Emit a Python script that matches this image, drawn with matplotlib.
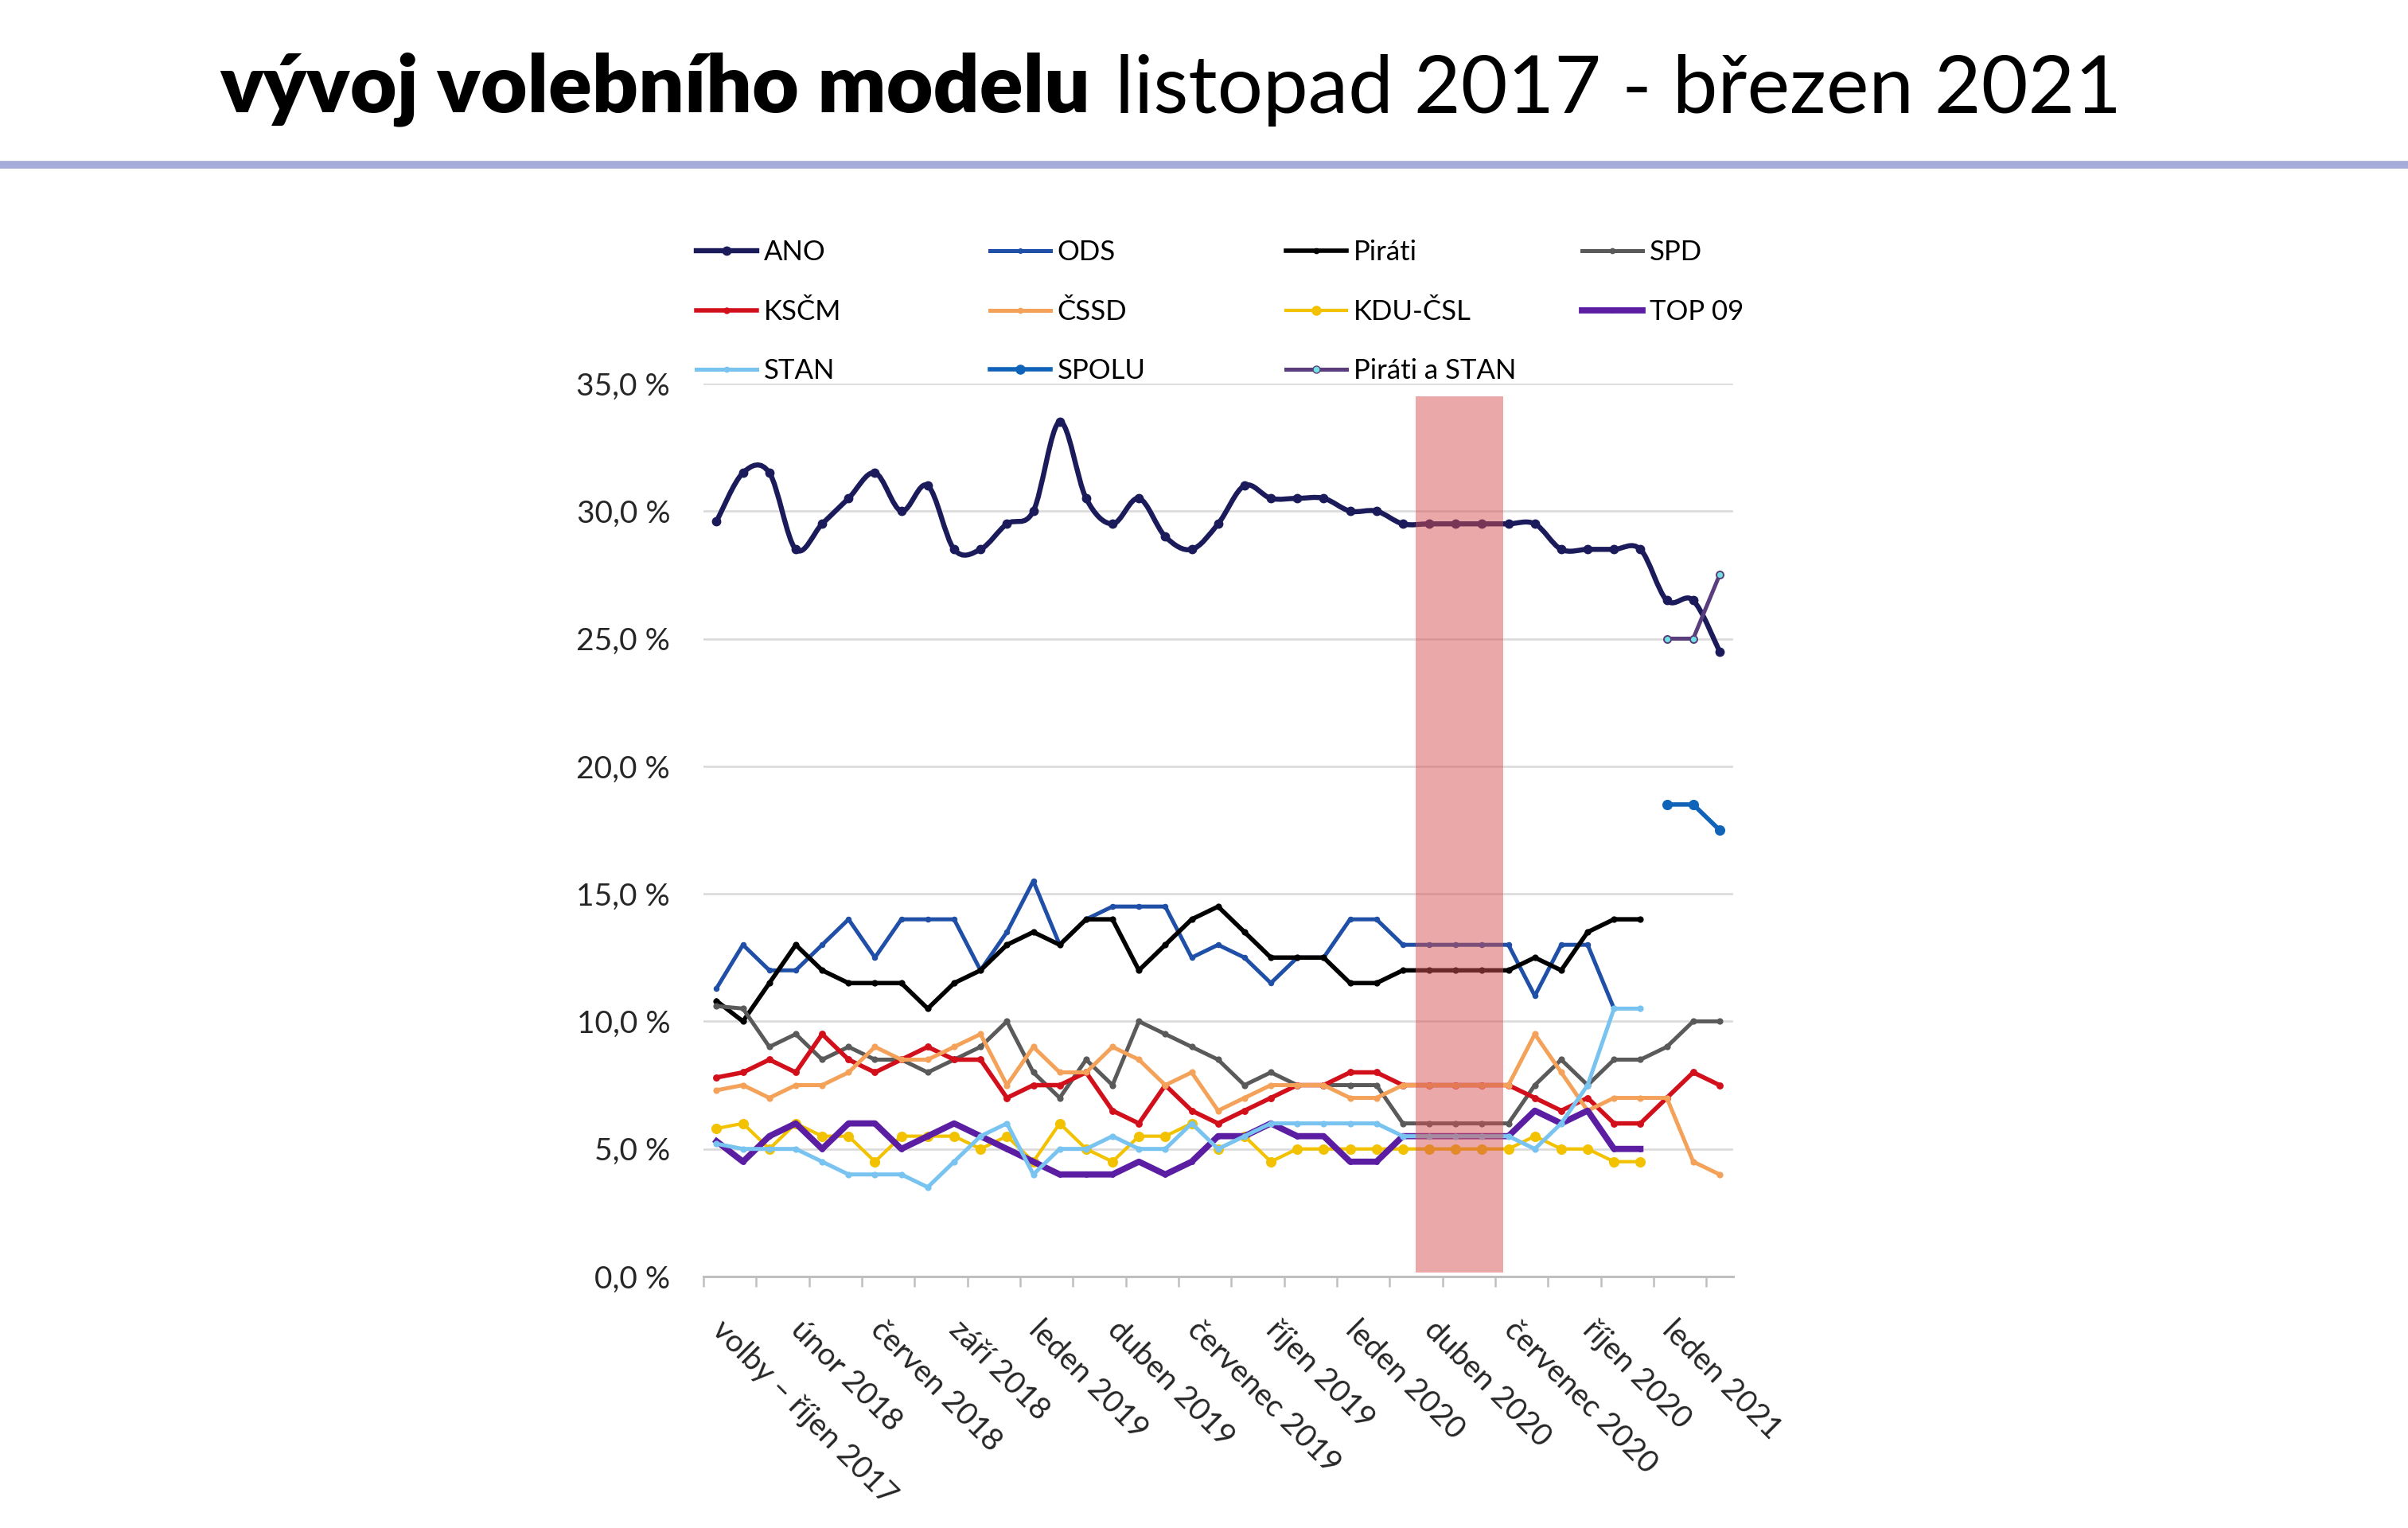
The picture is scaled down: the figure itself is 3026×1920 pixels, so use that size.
import numpy as np
import matplotlib

matplotlib.use("Agg")
import matplotlib.pyplot as plt
from matplotlib.lines import Line2D
from matplotlib.path import Path
from matplotlib.patches import PathPatch

FONT = ["Lato", "DejaVu Sans"]
plt.rcParams["font.family"] = FONT

# --- data (volební model, %) -------------------------------------------
n_points = 39
x_labels = ["volby – říjen 2017", "únor 2018", "červen 2018", "září 2018",
            "leden 2019", "duben 2019", "červenec 2019", "říjen 2019",
            "leden 2020", "duben 2020", "červenec 2020", "říjen 2020",
            "leden 2021"]
label_step = 3

ano = [29.6, 31.5, 31.5, 28.5, 29.5, 30.5, 31.5, 30.0, 31.0, 28.5,
       28.5, 29.5, 30.0, 33.5, 30.5, 29.5, 30.5, 29.0, 28.5, 29.5,
       31.0, 30.5, 30.5, 30.5, 30.0, 30.0, 29.5, 29.5, 29.5, 29.5,
       29.5, 29.5, 28.5, 28.5, 28.5, 28.5, 26.5, 26.5, 24.5]
ods = [11.3, 13.0, 12.0, 12.0, 13.0, 14.0, 12.5, 14.0, 14.0, 14.0,
       12.0, 13.5, 15.5, 13.0, 14.0, 14.5, 14.5, 14.5, 12.5, 13.0,
       12.5, 11.5, 12.5, 12.5, 14.0, 14.0, 13.0, 13.0, 13.0, 13.0,
       13.0, 11.0, 13.0, 13.0, 10.5]
pirati = [10.8, 10.0, 11.5, 13.0, 12.0, 11.5, 11.5, 11.5, 10.5, 11.5,
          12.0, 13.0, 13.5, 13.0, 14.0, 14.0, 12.0, 13.0, 14.0, 14.5,
          13.5, 12.5, 12.5, 12.5, 11.5, 11.5, 12.0, 12.0, 12.0, 12.0,
          12.0, 12.5, 12.0, 13.5, 14.0, 14.0]
spd = [10.6, 10.5, 9.0, 9.5, 8.5, 9.0, 8.5, 8.5, 8.0, 8.5,
       9.0, 10.0, 8.0, 7.0, 8.5, 7.5, 10.0, 9.5, 9.0, 8.5,
       7.5, 8.0, 7.5, 7.5, 7.5, 7.5, 6.0, 6.0, 6.0, 6.0,
       6.0, 7.5, 8.5, 7.5, 8.5, 8.5, 9.0, 10.0, 10.0]
kscm = [7.8, 8.0, 8.5, 8.0, 9.5, 8.5, 8.0, 8.5, 9.0, 8.5,
        8.5, 7.0, 7.5, 7.5, 8.0, 6.5, 6.0, 7.5, 6.5, 6.0,
        6.5, 7.0, 7.5, 7.5, 8.0, 8.0, 7.5, 7.5, 7.5, 7.5,
        7.5, 7.0, 6.5, 7.0, 6.0, 6.0, 7.0, 8.0, 7.5]
cssd = [7.3, 7.5, 7.0, 7.5, 7.5, 8.0, 9.0, 8.5, 8.5, 9.0,
        9.5, 7.5, 9.0, 8.0, 8.0, 9.0, 8.5, 7.5, 8.0, 6.5,
        7.0, 7.5, 7.5, 7.5, 7.0, 7.0, 7.5, 7.5, 7.5, 7.5,
        7.5, 9.5, 8.0, 6.5, 7.0, 7.0, 7.0, 4.5, 4.0]
kdu = [5.8, 6.0, 5.0, 6.0, 5.5, 5.5, 4.5, 5.5, 5.5, 5.5,
       5.0, 5.5, 4.5, 6.0, 5.0, 4.5, 5.5, 5.5, 6.0, 5.0,
       5.5, 4.5, 5.0, 5.0, 5.0, 5.0, 5.0, 5.0, 5.0, 5.0,
       5.0, 5.5, 5.0, 5.0, 4.5, 4.5]
top09 = [5.3, 4.5, 5.5, 6.0, 5.0, 6.0, 6.0, 5.0, 5.5, 6.0,
         5.5, 5.0, 4.5, 4.0, 4.0, 4.0, 4.5, 4.0, 4.5, 5.5,
         5.5, 6.0, 5.5, 5.5, 4.5, 4.5, 5.5, 5.5, 5.5, 5.5,
         5.5, 6.5, 6.0, 6.5, 5.0, 5.0]
stan = [5.2, 5.0, 5.0, 5.0, 4.5, 4.0, 4.0, 4.0, 3.5, 4.5,
        5.5, 6.0, 4.0, 5.0, 5.0, 5.5, 5.0, 5.0, 6.0, 5.0,
        5.5, 6.0, 6.0, 6.0, 6.0, 6.0, 5.5, 5.5, 5.5, 5.5,
        5.5, 5.0, 6.0, 7.5, 10.5, 10.5]
spolu = [18.5, 18.5, 17.5]
pirati_stan = [25.0, 25.0, 27.5]
coalition_start = 36           # první měsíc koalic SPOLU a Piráti+STAN
highlight_months = (26.5, 29.8)  # zvýrazněné období (jaro 2020)

# name, values, first index, colour, line width, marker size, marker face
series = [
    ("ANO", ano, 0, "#1b1b5c", 4.6, 7.5, None),
    ("ODS", ods, 0, "#1f4fa6", 3.6, 4.0, None),
    ("Piráti", pirati, 0, "#000000", 4.0, 4.5, None),
    ("SPD", spd, 0, "#5a5a5a", 3.6, 4.5, None),
    ("KSČM", kscm, 0, "#d2101c", 4.0, 5.0, None),
    ("ČSSD", cssd, 0, "#f4a25a", 3.6, 4.5, None),
    ("KDU-ČSL", kdu, 0, "#f2c200", 3.0, 8.0, None),
    ("TOP 09", top09, 0, "#5b1ea3", 5.6, 3.5, None),
    ("STAN", stan, 0, "#78c3f0", 3.6, 4.5, None),
    ("SPOLU", spolu, coalition_start, "#0f63b8", 4.0, 8.0, None),
    ("Piráti a STAN", pirati_stan, coalition_start, "#5a3d7c", 3.6, 6.5, "#70e0e0"),
]


def smooth_path(xs, ys):
    """Excel-like smoothed line as cubic Bezier segments (Catmull-Rom)."""
    pts = np.column_stack([xs, ys]).astype(float)
    n = len(pts)
    verts, codes = [pts[0]], [Path.MOVETO]
    for i in range(n - 1):
        p0, p1 = pts[max(i - 1, 0)], pts[i]
        p2, p3 = pts[i + 1], pts[min(i + 2, n - 1)]
        verts += [p1 + (p2 - p0) / 6, p2 - (p3 - p1) / 6, p2]
        codes += [Path.CURVE4] * 3
    return Path(verts, codes)


fig = plt.figure(figsize=(30.26, 19.2), dpi=100)
ax = fig.add_axes([0.2921, 0.1646, 0.4275, 0.5844])

handles = {}
for k, (name, vals, start, color, lw, ms, mfc) in enumerate(series):
    xs = np.arange(start, start + len(vals))
    face = mfc if mfc else color
    if name == "ANO":
        ax.add_patch(PathPatch(smooth_path(xs, vals), facecolor="none",
                               edgecolor=color, lw=lw, zorder=3 + k * 0.01,
                               capstyle="round", joinstyle="round"))
        ax.plot(xs, vals, ls="none", marker="o", ms=ms, mfc=face,
                mec=color, zorder=3 + k * 0.01)
    else:
        ax.plot(xs, vals, color=color, lw=lw, marker="o", ms=ms, mfc=face,
                mec=color, mew=1.4, zorder=3 + k * 0.01,
                solid_joinstyle="round")
    handles[name] = Line2D([], [], color=color, lw=lw, marker="o",
                           ms=ms, mfc=face, mec=color)

ax.axvspan(*highlight_months, ymin=0.004, ymax=34.5 / 35,
           color=(0.84, 0.32, 0.32), alpha=0.5, lw=0, zorder=6)

ax.set_xlim(-0.5, n_points - 0.5)
ax.set_ylim(0, 35)
yt = np.arange(0, 36, 5)
ax.set_yticks(yt, [f"{v:.1f} %".replace(".", ",") for v in yt])
ax.yaxis.grid(True, color="#d9d9d9", lw=1.8)
ax.set_axisbelow(True)
for s in ["left", "right", "top"]:
    ax.spines[s].set_visible(False)
ax.spines["bottom"].set_color("#bfbfbf")
ax.spines["bottom"].set_linewidth(2.2)
ax.tick_params(axis="y", length=0, pad=30, labelsize=28, labelcolor="#262626")

ax.set_xticks(np.arange(0, n_points, label_step), x_labels)
ax.set_xticks(np.arange(-0.5, n_points - 1, 2), minor=True)
ax.tick_params(axis="x", which="major", length=0, pad=44, labelsize=28,
               labelcolor="#262626")
ax.tick_params(axis="x", which="minor", length=9, width=1.8, color="#bfbfbf")
for lab in ax.get_xticklabels():
    lab.set_rotation(-45)
    lab.set_rotation_mode("anchor")
    lab.set_ha("left")
    lab.set_va("center")

# legenda: 4 sloupce po třech řádcích
columns = [["ANO", "KSČM", "STAN"], ["ODS", "ČSSD", "SPOLU"],
           ["Piráti", "KDU-ČSL", "Piráti a STAN"], ["SPD", "TOP 09"]]
col_x = [0.289, 0.411, 0.534, 0.657]
for cx, names in zip(col_x, columns):
    fig.legend([handles[n] for n in names], names, loc="upper left",
               bbox_to_anchor=(cx, 0.843), frameon=False, fontsize=25,
               borderpad=0, borderaxespad=0, handlelength=2.2,
               handletextpad=0.25, labelspacing=1.22, numpoints=1)

# nadpis
t1 = fig.text(276 / 3026, 1 - 112 / 1920, "vývoj volebního modelu",
              fontsize=73, fontweight="heavy", ha="left", va="center")
ax.annotate(" listopad 2017 - březen 2021", xy=(1, 0), xycoords=t1,
            xytext=(4, 0), textcoords="offset points", ha="left",
            va="bottom", fontsize=73, annotation_clip=False)
fig.add_artist(Line2D([0, 1], [1 - 207 / 1920] * 2, color="#a5acd9", lw=7,
                      transform=fig.transFigure))

fig.savefig("out.png", dpi=100)
